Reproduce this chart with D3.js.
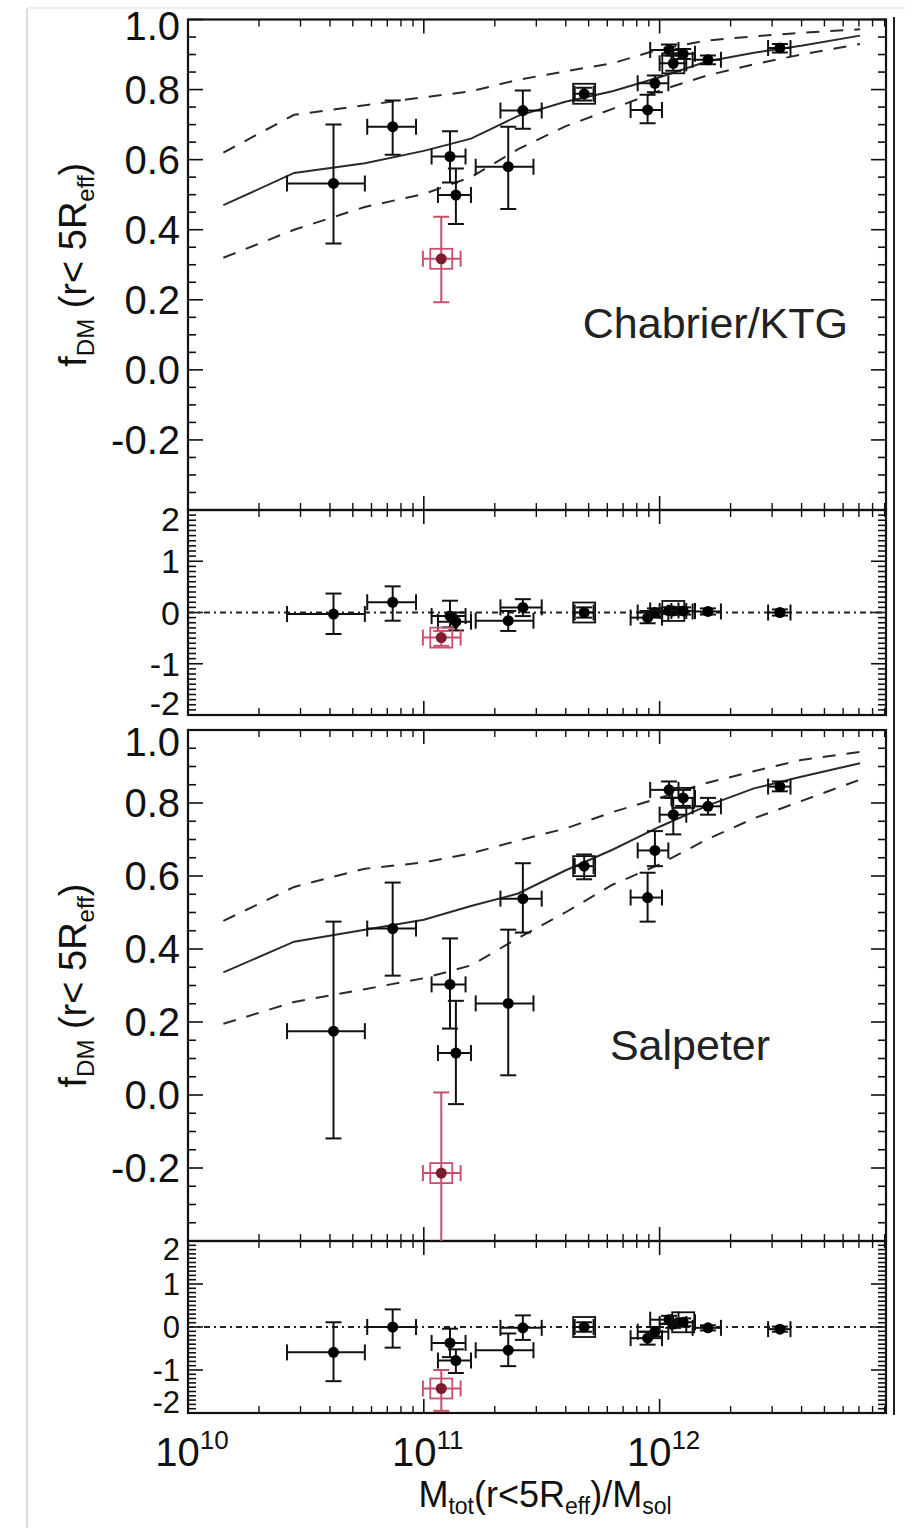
<!DOCTYPE html>
<html>
<head>
<meta charset="utf-8">
<title>Dark matter fraction vs total mass</title>
<script src="https://d3js.org/d3.v7.min.js"></script>
<style>
  body { margin: 0; background: #fff; }
  svg { font-family: "Liberation Sans", Arial, Helvetica, sans-serif; }
</style>
</head>
<body>
<script>
// ---- data (log10 of Mtot(r<5Reff)/Msol, fractions and residuals) ----
const logM   = [10.617, 10.868, 11.111, 11.136, 11.358, 11.42, 11.68, 11.949, 11.98, 12.058, 12.04, 12.10, 12.205, 12.51];
const logMlo = [10.42, 10.76, 11.033, 11.06, 11.22, 11.325, 11.64, 11.877, 11.907, 12.0, 11.96, 12.05, 12.14, 12.46];
const logMhi = [10.75, 10.967, 11.177, 11.20, 11.465, 11.50, 11.72, 12.01, 12.037, 12.113, 12.08, 12.15, 12.26, 12.555];

const fChab   = [0.532, 0.694, 0.609, 0.499, 0.58, 0.74, 0.788, 0.742, 0.818, 0.875, 0.913, 0.902, 0.885, 0.919];
const fChabLo = [0.361, 0.614, 0.535, 0.416, 0.459, 0.688, 0.769, 0.704, 0.792, 0.854, 0.897, 0.887, 0.872, 0.906];
const fChabHi = [0.70, 0.769, 0.681, 0.575, 0.694, 0.797, 0.805, 0.785, 0.84, 0.897, 0.929, 0.916, 0.897, 0.93];

const resChab   = [-0.03, 0.2, -0.07, -0.18, -0.16, 0.1, 0.0, -0.1, 0.0, 0.03, 0.04, 0.03, 0.02, 0.0];
const resChabLo = [-0.42, -0.16, -0.29, -0.35, -0.36, -0.07, -0.1, -0.21, -0.08, -0.04, -0.03, -0.04, -0.04, -0.06];
const resChabHi = [0.37, 0.51, 0.23, 0.0, 0.03, 0.26, 0.1, 0.03, 0.08, 0.1, 0.1, 0.1, 0.08, 0.06];

const fSalp   = [0.175, 0.456, 0.303, 0.115, 0.251, 0.538, 0.627, 0.541, 0.67, 0.768, 0.836, 0.814, 0.791, 0.845];
const fSalpLo = [-0.119, 0.327, 0.182, -0.025, 0.054, 0.445, 0.591, 0.475, 0.627, 0.714, 0.814, 0.792, 0.768, 0.832];
const fSalpHi = [0.475, 0.582, 0.429, 0.258, 0.453, 0.635, 0.659, 0.609, 0.723, 0.814, 0.859, 0.836, 0.814, 0.859];

const resSalp   = [-0.59, 0.0, -0.37, -0.78, -0.54, -0.02, 0.0, -0.26, -0.11, 0.07, 0.17, 0.11, -0.02, -0.05];
const resSalpLo = [-1.26, -0.48, -0.70, -1.07, -0.91, -0.3, -0.11, -0.41, -0.22, -0.02, 0.08, 0.02, -0.08, -0.11];
const resSalpHi = [0.11, 0.41, -0.04, -0.52, -0.15, 0.27, 0.11, -0.11, 0.0, 0.16, 0.26, 0.2, 0.04, 0.01];

// outlier (red)
const redLogM = [11.074], redLogMlo = [10.996], redLogMhi = [11.156];
const redChab = [0.317], redChabLo = [0.193], redChabHi = [0.437];
const redResChab = [-0.49], redResChabLo = [-0.65], redResChabHi = [-0.36];
const redSalp = [-0.214], redSalpLo = [-0.45], redSalpHi = [0.007];
const redResSalp = [-1.43], redResSalpLo = [-1.95], redResSalpHi = [-1.0];

// galaxies drawn with an extra open square
const squaredChab = [6, 9];
const squaredSalp = [6, 11];

// model curves
const modelLogM = [10.15, 10.45, 10.75, 11.0, 11.2, 11.4, 11.6, 11.8, 12.0, 12.2, 12.4, 12.6, 12.85];
const chabMid = [0.47, 0.562, 0.59, 0.625, 0.66, 0.725, 0.765, 0.795, 0.835, 0.88, 0.905, 0.925, 0.954];
const chabUp  = [0.62, 0.728, 0.755, 0.778, 0.795, 0.828, 0.852, 0.875, 0.915, 0.94, 0.952, 0.962, 0.972];
const chabLow = [0.32, 0.40, 0.465, 0.502, 0.55, 0.63, 0.695, 0.745, 0.797, 0.84, 0.872, 0.90, 0.93];
const salpMid = [0.336, 0.42, 0.453, 0.48, 0.518, 0.552, 0.615, 0.672, 0.735, 0.792, 0.84, 0.872, 0.909];
const salpUp  = [0.477, 0.57, 0.62, 0.637, 0.662, 0.697, 0.73, 0.775, 0.814, 0.855, 0.887, 0.918, 0.94];
const salpLow = [0.195, 0.255, 0.29, 0.32, 0.355, 0.43, 0.50, 0.576, 0.632, 0.70, 0.758, 0.805, 0.864];

const fTicks = [1.0, 0.8, 0.6, 0.4, 0.2, 0.0, -0.2];
const resTicks = [2, 1, 0, -1, -2];
const xTickExp = [10, 11, 12];

// ---- layout ----
const W = 916, H = 1528;
const red = "#c8506c", darkRed = "#7a1c2c";
const x = d3.scaleLog().domain([1e10, Math.pow(10, 12.96)]).range([188, 886]);
const loc = d3.formatLocale({ decimal: ".", thousands: ",", grouping: [3], currency: ["", ""], minus: "-" });

const svg = d3.select("body").append("svg").attr("width", W).attr("height", H);

// faint scan border
svg.append("line").attr("x1", 27).attr("x2", 27).attr("y1", 8).attr("y2", H).attr("stroke", "#dcdcdc").attr("stroke-width", 2);
svg.append("line").attr("x1", 27).attr("x2", 905).attr("y1", 8).attr("y2", 8).attr("stroke", "#eeeeee").attr("stroke-width", 2);

const panels = [
  { top: 19.5, bottom: 510, dom: [-0.4, 1.0], major: 0.2, minor: 0.05, ticks: fTicks, fmt: loc.format(".1f"), fs: 40, pad: [6, 14] },
  { top: 510, bottom: 715, dom: [-2, 2], major: 1, minor: 0.1, ticks: resTicks, fmt: loc.format("d"), fs: 34, pad: [9, 12] },
  { top: 730, bottom: 1241, dom: [-0.4, 1.0], major: 0.2, minor: 0.05, ticks: fTicks, fmt: loc.format(".1f"), fs: 40, pad: [12, 14] },
  { top: 1241, bottom: 1413, dom: [-2, 2], major: 1, minor: 0.1, ticks: resTicks, fmt: loc.format("d"), fs: 31, pad: [8, 11] }
];
panels.forEach(p => { p.y = d3.scaleLinear().domain(p.dom).range([p.bottom, p.top]); });

const x0 = x.range()[0], x1 = x.range()[1];
const minorX = [];
xTickExp.forEach(e => { for (let m = 2; m <= 9; m++) { const v = m * Math.pow(10, e); if (v < x.domain()[1]) minorX.push(v); } });
const majorX = xTickExp.map(e => Math.pow(10, e));

function frame(p, i) {
  const g = svg.append("g").attr("stroke", "#111").attr("fill", "none");
  // y ticks
  const nMin = Math.round((p.dom[1] - p.dom[0]) / p.minor);
  for (let k = 0; k <= nMin; k++) {
    const v = p.dom[0] + k * p.minor;
    const isMaj = Math.abs(v / p.major - Math.round(v / p.major)) < 1e-6;
    const len = isMaj ? 15 : 8;
    const yy = p.y(v);
    g.append("line").attr("x1", x0).attr("x2", x0 + len).attr("y1", yy).attr("y2", yy).attr("stroke-width", 1.6);
    g.append("line").attr("x1", x1).attr("x2", x1 - len).attr("y1", yy).attr("y2", yy).attr("stroke-width", 1.6);
  }
  // x ticks
  majorX.forEach(v => {
    g.append("line").attr("x1", x(v)).attr("x2", x(v)).attr("y1", p.top).attr("y2", p.top + 14).attr("stroke-width", 1.6);
    g.append("line").attr("x1", x(v)).attr("x2", x(v)).attr("y1", p.bottom).attr("y2", p.bottom - 14).attr("stroke-width", 1.6);
  });
  minorX.forEach(v => {
    g.append("line").attr("x1", x(v)).attr("x2", x(v)).attr("y1", p.top).attr("y2", p.top + 7).attr("stroke-width", 1.4);
    g.append("line").attr("x1", x(v)).attr("x2", x(v)).attr("y1", p.bottom).attr("y2", p.bottom - 7).attr("stroke-width", 1.4);
  });
  g.append("rect").attr("x", x0).attr("y", p.top).attr("width", x1 - x0).attr("height", p.bottom - p.top).attr("stroke-width", 2.2);

  // y tick labels
  svg.append("g").selectAll("text").data(p.ticks).join("text")
    .attr("x", x0 - 8)
    .attr("y", d => Math.min(Math.max(p.y(d), p.top + p.pad[0]), p.bottom - p.pad[1]))
    .attr("dy", "0.36em")
    .attr("text-anchor", "end")
    .attr("font-size", p.fs)
    .attr("fill", "#111")
    .text(d => p.fmt(d));
}
panels.forEach(frame);

// right-side double edge
svg.append("line").attr("x1", 894).attr("x2", 894).attr("y1", 17).attr("y2", 1415).attr("stroke", "#222").attr("stroke-width", 2);

// clip paths for each panel
panels.forEach((p, i) => {
  svg.append("clipPath").attr("id", "clip" + i).append("rect")
    .attr("x", x0).attr("y", p.top).attr("width", x1 - x0).attr("height", p.bottom - p.top);
});

function curve(p, i, vals, dashed) {
  const line = d3.line().x((d, k) => x(Math.pow(10, modelLogM[k]))).y(d => p.y(d));
  svg.append("path").attr("clip-path", "url(#clip" + i + ")")
    .attr("d", line(vals)).attr("fill", "none").attr("stroke", "#2a2a2a")
    .attr("stroke-width", 2).attr("stroke-dasharray", dashed ? "13,11" : null);
}

function points(p, i, ms, mlo, mhi, v, vlo, vhi, color, dot, squared) {
  const g = svg.append("g").attr("clip-path", "url(#clip" + i + ")").attr("stroke", color).attr("stroke-width", 2);
  const cap = 8;
  ms.forEach((m, k) => {
    const cx = x(Math.pow(10, m)), cy = p.y(v[k]);
    const xl = x(Math.pow(10, mlo[k])), xr = x(Math.pow(10, mhi[k]));
    const yl = p.y(vlo[k]), yh = p.y(vhi[k]);
    g.append("line").attr("x1", xl).attr("x2", xr).attr("y1", cy).attr("y2", cy);
    g.append("line").attr("x1", xl).attr("x2", xl).attr("y1", cy - cap).attr("y2", cy + cap);
    g.append("line").attr("x1", xr).attr("x2", xr).attr("y1", cy - cap).attr("y2", cy + cap);
    g.append("line").attr("x1", cx).attr("x2", cx).attr("y1", yl).attr("y2", yh);
    g.append("line").attr("x1", cx - cap).attr("x2", cx + cap).attr("y1", yl).attr("y2", yl);
    g.append("line").attr("x1", cx - cap).attr("x2", cx + cap).attr("y1", yh).attr("y2", yh);
    if (squared.includes(k)) {
      g.append("rect").attr("x", cx - 11).attr("y", cy - 10).attr("width", 22).attr("height", 20)
        .attr("fill", "none").attr("stroke-width", 1.8);
    }
    g.append("circle").attr("cx", cx).attr("cy", cy).attr("r", 5.5).attr("fill", dot).attr("stroke", "none");
  });
}

function zeroLine(p, i) {
  svg.append("line").attr("x1", x0).attr("x2", x1).attr("y1", p.y(0)).attr("y2", p.y(0))
    .attr("stroke", "#222").attr("stroke-width", 2).attr("stroke-dasharray", "6,4,2,4");
}

// top (Chabrier/KTG)
curve(panels[0], 0, chabUp, true);
curve(panels[0], 0, chabLow, true);
curve(panels[0], 0, chabMid, false);
points(panels[0], 0, logM, logMlo, logMhi, fChab, fChabLo, fChabHi, "#111", "#000", squaredChab);
points(panels[0], 0, redLogM, redLogMlo, redLogMhi, redChab, redChabLo, redChabHi, red, darkRed, [0]);

zeroLine(panels[1], 1);
points(panels[1], 1, logM, logMlo, logMhi, resChab, resChabLo, resChabHi, "#111", "#000", squaredChab);
points(panels[1], 1, redLogM, redLogMlo, redLogMhi, redResChab, redResChabLo, redResChabHi, red, darkRed, [0]);

// bottom (Salpeter)
curve(panels[2], 2, salpUp, true);
curve(panels[2], 2, salpLow, true);
curve(panels[2], 2, salpMid, false);
points(panels[2], 2, logM, logMlo, logMhi, fSalp, fSalpLo, fSalpHi, "#111", "#000", squaredSalp);
points(panels[2], 2, redLogM, redLogMlo, redLogMhi, redSalp, redSalpLo, redSalpHi, red, darkRed, [0]);

zeroLine(panels[3], 3);
points(panels[3], 3, logM, logMlo, logMhi, resSalp, resSalpLo, resSalpHi, "#111", "#000", squaredSalp);
points(panels[3], 3, redLogM, redLogMlo, redLogMhi, redResSalp, redResSalpLo, redResSalpHi, red, darkRed, [0]);

// annotations
svg.append("text").attr("x", 848).attr("y", 338).attr("text-anchor", "end")
  .attr("font-size", 43).attr("fill", "#222").text("Chabrier/KTG");
svg.append("text").attr("x", 690).attr("y", 1060).attr("text-anchor", "middle")
  .attr("font-size", 43).attr("fill", "#222").text("Salpeter");

// y titles
[panels[0], panels[2]].forEach(p => {
  const cy = (p.top + p.bottom) / 2;
  const t = svg.append("text").attr("transform", "translate(86," + cy + ") rotate(-90)")
    .attr("text-anchor", "middle").attr("font-size", 38).attr("fill", "#111");
  t.append("tspan").text("f");
  t.append("tspan").attr("font-size", 24).attr("dy", 8).text("DM");
  t.append("tspan").attr("dy", -8).text(" (r< 5R");
  t.append("tspan").attr("font-size", 24).attr("dy", 8).text("eff");
  t.append("tspan").attr("dy", -8).text(")");
});

// x tick labels
xTickExp.forEach(e => {
  const t = svg.append("text").attr("x", x(Math.pow(10, e)) + 4).attr("y", 1466)
    .attr("text-anchor", "middle").attr("font-size", 40).attr("fill", "#111");
  t.append("tspan").text("10");
  t.append("tspan").attr("font-size", 26).attr("dy", -17).text(String(e));
});

// x title
const xt = svg.append("text").attr("x", 545).attr("y", 1507).attr("text-anchor", "middle")
  .attr("font-size", 36).attr("fill", "#111");
xt.append("tspan").text("M");
xt.append("tspan").attr("font-size", 23).attr("dy", 7).text("tot");
xt.append("tspan").attr("dy", -7).text("(r<5R");
xt.append("tspan").attr("font-size", 23).attr("dy", 7).text("eff");
xt.append("tspan").attr("dy", -7).text(")/M");
xt.append("tspan").attr("font-size", 23).attr("dy", 7).text("sol");
</script>
</body>
</html>
